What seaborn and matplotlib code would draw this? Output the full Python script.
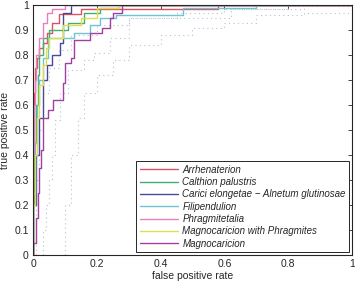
import matplotlib
matplotlib.use("Agg")
import matplotlib.pyplot as plt
from matplotlib.lines import Line2D
import seaborn as sns
import numpy as np

sns.set_style("white")
plt.rcParams['font.family'] = ['Liberation Sans', 'DejaVu Sans']

names = ["Arrhenaterion", "Calthion palustris",
         "Carici elongetae \u2212 Alnetum glutinosae", "Filipendulion",
         "Phragmitetalia", "Magnocaricion with Phragmites", "Magnocaricion"]
colors = ["#e05060", "#40b070", "#4a4a9a", "#70c4d0", "#e880c0", "#e0dc50", "#a040a0"]

arr_fpr = [0, 0.003, 0.006, 0.012, 0.02, 0.03, 0.045, 0.06, 0.08, 0.15, 0.58, 0.9, 1]
arr_tpr = [0, 0.45, 0.65, 0.75, 0.79, 0.83, 0.85, 0.89, 0.93, 0.965, 0.985, 1, 1]

cal_fpr = [0, 0.004, 0.01, 0.015, 0.02, 0.03, 0.05, 0.11, 0.16, 0.21, 0.27, 0.5, 1]
cal_tpr = [0, 0.2, 0.45, 0.6, 0.72, 0.8, 0.87, 0.9, 0.93, 0.97, 0.99, 1, 1]

car_fpr = [0, 0.01, 0.02, 0.03, 0.045, 0.06, 0.085, 0.094, 0.12, 0.15, 1]
car_tpr = [0, 0.2, 0.4, 0.55, 0.7, 0.76, 0.8, 0.85, 0.97, 1, 1]

fil_fpr = [0, 0.006, 0.012, 0.02, 0.03, 0.047, 0.13, 0.18, 0.21, 0.26, 0.47, 0.7, 1]
fil_tpr = [0, 0.25, 0.45, 0.6, 0.7, 0.79, 0.87, 0.89, 0.92, 0.95, 0.96, 0.99, 1]

phr_fpr = [0, 0.002, 0.006, 0.01, 0.02, 0.03, 0.045, 0.06, 0.1, 0.15, 1]
phr_tpr = [0, 0.4, 0.6, 0.7, 0.8, 0.87, 0.93, 0.97, 0.985, 1, 1]

mwp_fpr = [0, 0.005, 0.012, 0.02, 0.03, 0.042, 0.05, 0.095, 0.15, 0.2, 0.27, 0.55, 1]
mwp_tpr = [0, 0.2, 0.4, 0.55, 0.68, 0.76, 0.83, 0.87, 0.92, 0.95, 0.99, 1, 1]

mag_fpr = [0, 0.01, 0.015, 0.02, 0.025, 0.03, 0.032, 0.048, 0.064, 0.095, 0.1, 0.12, 0.13,
           0.18, 0.215, 0.24, 0.25, 0.28, 0.32, 1]
mag_tpr = [0, 0.05, 0.15, 0.25, 0.35, 0.42, 0.46, 0.55, 0.58, 0.62, 0.69, 0.77, 0.79,
           0.86, 0.89, 0.91, 0.95, 0.97, 1, 1]

series_fpr = [arr_fpr, cal_fpr, car_fpr, fil_fpr, phr_fpr, mwp_fpr, mag_fpr]
series_tpr = [arr_tpr, cal_tpr, car_tpr, fil_tpr, phr_tpr, mwp_tpr, mag_tpr]

# dotted reference curves
dot1_fpr = [0.1, 0.12, 0.14, 0.16, 0.2, 0.25, 0.3, 0.4, 0.5, 0.6, 0.7, 0.85, 1]
dot1_tpr = [0, 0.2, 0.4, 0.55, 0.65, 0.72, 0.78, 0.84, 0.88, 0.91, 0.93, 0.96, 0.97]
dot2_fpr = [0.03, 0.04, 0.05, 0.06, 0.07, 0.085, 0.11, 0.16, 0.19, 0.24, 0.3, 0.43, 0.62, 0.7, 0.85, 1]
dot2_tpr = [0, 0.1, 0.2, 0.3, 0.4, 0.54, 0.65, 0.74, 0.78, 0.81, 0.87, 0.95, 0.95, 0.985, 0.985, 1]
dot3_fpr = [0.01, 0.02, 0.03, 0.05, 0.08, 0.12, 0.2, 0.3, 0.45, 0.6, 0.8, 1]
dot3_tpr = [0, 0.3, 0.5, 0.65, 0.75, 0.82, 0.88, 0.92, 0.95, 0.97, 0.985, 0.995]

xticks = [0, 0.2, 0.4, 0.6, 0.8, 1]
yticks = [0, 0.1, 0.2, 0.3, 0.4, 0.5, 0.6, 0.7, 0.8, 0.9, 1]
xtick_labels = ["0", "0.2", "0.4", "0.6", "0.8", "1"]
ytick_labels = ["0", "0.1", "0.2", "0.3", "0.4", "0.5", "0.6", "0.7", "0.8", "0.9", "1"]

fig = plt.figure(figsize=(3.55, 2.81), dpi=100)
ax = fig.add_axes([0.093, 0.0925, 0.8985, 0.8895])

for fx, fy in [(dot1_fpr, dot1_tpr), (dot2_fpr, dot2_tpr), (dot3_fpr, dot3_tpr)]:
    sns.lineplot(x=fx, y=fy, ax=ax, sort=False, estimator=None, color="#b4c2d4",
                 linestyle=(0, (1, 3)), linewidth=0.8, drawstyle="steps-pre")

for name, c, fx, fy in zip(names, colors, series_fpr, series_tpr):
    sns.lineplot(x=fx, y=fy, ax=ax, sort=False, estimator=None, color=c,
                 linewidth=1.0, drawstyle="steps-pre")

handles = [Line2D([0], [0], color=c, linewidth=1.0) for c in colors]

ax.set_xlim(0, 1)
ax.set_ylim(0, 1)
ax.set_xticks(xticks)
ax.set_xticklabels(xtick_labels)
ax.set_yticks(yticks)
ax.set_yticklabels(ytick_labels)
ax.tick_params(direction="in", length=3, width=0.6, labelsize=7.5, top=True, right=True,
               colors="#262626", pad=3)
for s in ax.spines.values():
    s.set_visible(True)
    s.set_color("#262626")
    s.set_linewidth(0.8)
ax.set_xlabel("false positive rate", fontsize=7.5, labelpad=1)
ax.set_ylabel("true positive rate", fontsize=7.5, labelpad=3)

leg = ax.legend(handles, names, loc="lower right", fancybox=False, framealpha=1,
                edgecolor="#262626", prop={"style": "italic", "size": 7},
                handlelength=4.0, handletextpad=0.4, labelspacing=0.24,
                borderpad=0.35, borderaxespad=0.3)
leg.get_frame().set_linewidth(0.7)

fig.savefig("out.png", dpi=100)
